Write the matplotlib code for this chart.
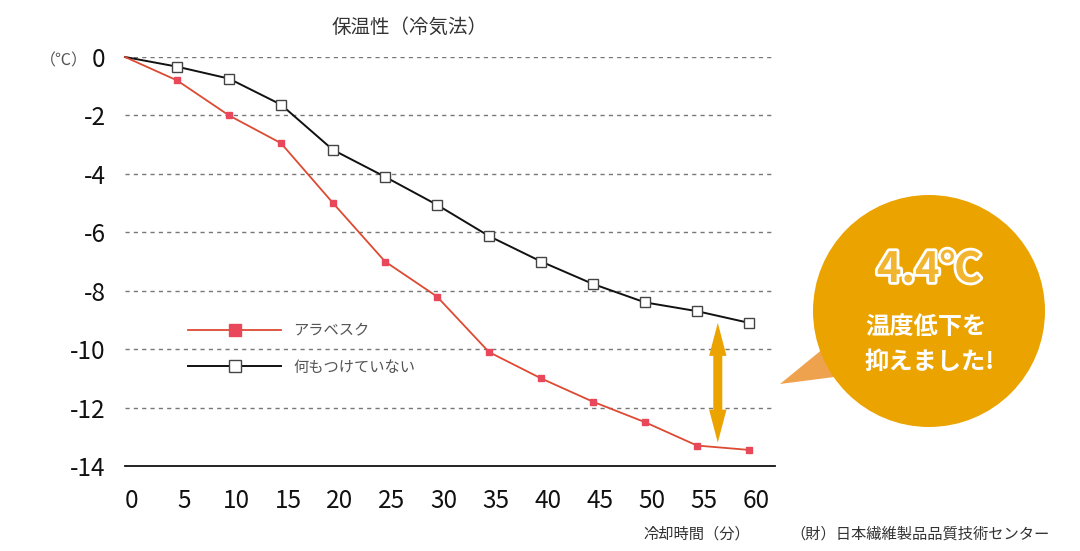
import matplotlib
matplotlib.use("Agg")
import matplotlib.pyplot as plt
import matplotlib.transforms as mtransforms
from matplotlib.patches import Circle, Polygon
from matplotlib.lines import Line2D
import matplotlib.patheffects as pe

plt.rcParams["font.family"] = ["Noto Sans CJK JP", "DejaVu Sans"]

# data
minutes = [0, 5, 10, 15, 20, 25, 30, 35, 40, 45, 50, 55, 60]
arabesque = [0, -0.8, -2.0, -2.95, -5.0, -7.0, -8.2, -10.1, -11.0, -11.8, -12.5, -13.3, -13.45]
nothing = [0, -0.33, -0.74, -1.63, -3.18, -4.1, -5.06, -6.13, -7.0, -7.77, -8.4, -8.7, -9.1]
yticks = [0, -2, -4, -6, -8, -10, -12, -14]
series_names = ["アラベスク", "何もつけていない"]
diff_label = "4.4℃"

RED_LINE = "#DD4A32"
RED_MK = "#E8485A"
ORANGE = "#EBA300"
TAIL = "#EFA24E"
GRAY = "#555555"

W, H = 1080, 551
fig = plt.figure(figsize=(W / 100, H / 100), dpi=100)
ax = fig.add_axes([125 / W, 1 - 466 / H, (775 - 125) / W, (466 - 57) / H])

marks = list(range(1, len(minutes)))
ax.plot(minutes, nothing, color="#111111", lw=1.4, marker="s", ms=7.5,
        mfc="white", mec="#444444", mew=1.0, markevery=marks,
        clip_on=False, zorder=4)
ax.plot(minutes, arabesque, color=RED_LINE, lw=1.3, marker="s", ms=4.2,
        mfc=RED_MK, mec=RED_MK, markevery=marks, clip_on=False, zorder=5)

ax.set_xlim(0, 62.5)
ax.set_ylim(-14, 0)
for y in yticks[:-1]:
    ax.axhline(y, color="#777777", lw=1.0, ls=(0, (3, 3)), zorder=1)
for s in ["top", "right", "left"]:
    ax.spines[s].set_visible(False)
ax.spines["bottom"].set_color("#111111")
ax.spines["bottom"].set_linewidth(1.3)

ax.set_xticks(minutes)
ax.set_xticklabels([str(m) for m in minutes])
ax.set_yticks(yticks)
ax.set_yticklabels([str(y) for y in yticks])
ax.tick_params(axis="both", length=0, labelsize=17.5, colors="#111111")
ax.tick_params(axis="x", pad=16)
ax.tick_params(axis="y", pad=14)
shift = mtransforms.ScaledTranslation(7 / 100, 0, fig.dpi_scale_trans)
for lab in ax.get_xticklabels():
    lab.set_transform(lab.get_transform() + shift)

# overlay in pixel coordinates for text, legend, arrow and bubble
ov = fig.add_axes([0, 0, 1, 1])
ov.set_xlim(0, W)
ov.set_ylim(H, 0)
ov.axis("off")
ov.patch.set_alpha(0)


def to_px(x, y):
    px, py = ax.transData.transform((x, y))
    return px, H - py


# double arrow showing the gap, placed at 57 min between the two curves
xc, yt = to_px(57, nothing[-1])
_, yb = to_px(57, arabesque[-2] + 0.1)
hl, hw, sw = 33, 8.7, 4.5
ov.add_patch(Polygon([(xc, yt), (xc + hw, yt + hl), (xc + sw, yt + hl),
                      (xc + sw, yb - hl), (xc + hw, yb - hl), (xc, yb),
                      (xc - hw, yb - hl), (xc - sw, yb - hl), (xc - sw, yt + hl),
                      (xc - hw, yt + hl)], closed=True, color=ORANGE, lw=0,
                     zorder=6))

ov.text(410, 27, "保温性（冷気法）", ha="center", va="center", fontsize=14, color="#333333")
ov.text(64, 61, "（℃）", ha="center", va="center", fontsize=11.5, color=GRAY)
ov.text(697, 534, "冷却時間（分）", ha="center", va="center", fontsize=11, color="#333333")
ov.text(920, 534, "（財）日本繊維製品品質技術センター", ha="center", va="center",
        fontsize=11, color="#333333")

# legend
ov.add_line(Line2D([188, 281], [330, 330], color=RED_LINE, lw=1.3))
ov.plot([235], [330], marker="s", ms=9, mfc=RED_MK, mec=RED_MK, color="none")
ov.text(293, 331, series_names[0], ha="left", va="center", fontsize=11, color=GRAY)
ov.add_line(Line2D([188, 281], [366, 366], color="#111111", lw=1.4))
ov.plot([235], [366], marker="s", ms=9, mfc="white", mec="#444444", mew=1.0, color="none")
ov.text(293, 367, series_names[1], ha="left", va="center", fontsize=11, color=GRAY)

# speech bubble
ov.add_patch(Polygon([(780, 384), (824, 348), (842, 376)], closed=True,
                     color=TAIL, lw=0, zorder=2))
ov.add_patch(Circle((929, 311), 116, color=ORANGE, lw=0, zorder=3))
ov.text(929, 270, diff_label, ha="center", va="center", fontsize=30,
        fontweight="bold", color="#F2B530", zorder=4,
        path_effects=[pe.withStroke(linewidth=4, foreground="white")])
ov.text(926, 327, "温度低下を", ha="center", va="center", fontsize=17.5,
        fontweight="bold", color="white", zorder=4)
ov.text(930, 362, "抑えました!", ha="center", va="center", fontsize=17.5,
        fontweight="bold", color="white", zorder=4)

fig.savefig("out.png", dpi=100)
